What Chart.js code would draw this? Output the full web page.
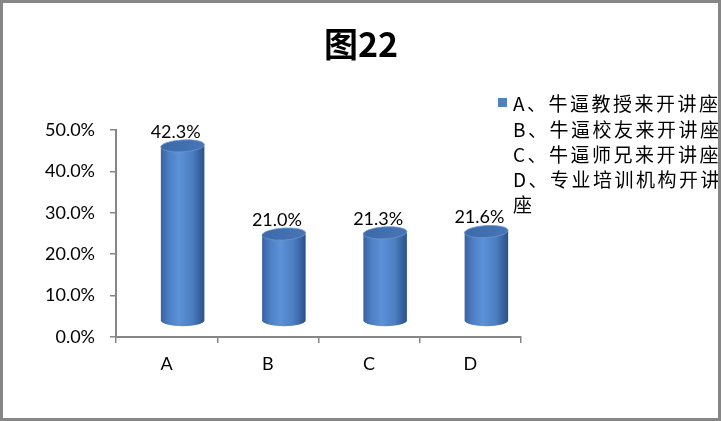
<!DOCTYPE html>
<html>
<head>
<meta charset="utf-8">
<script src="https://cdn.jsdelivr.net/npm/chart.js@4"></script>
<style>
  html, body { margin: 0; padding: 0; background: #fff; }
  #wrap { width: 721px; height: 421px; }
</style>
</head>
<body>
<div id="wrap"><canvas id="chart" width="721" height="421"></canvas></div>
<script>
// chart values
const titleText = '图22';
const categories = ['A', 'B', 'C', 'D'];
const shares = [42.3, 21.0, 21.3, 21.6];
const yTicks = [0, 10, 20, 30, 40, 50];
const legendLines = [
    'A、牛逼教授来开讲座',
    'B、牛逼校友来开讲座',
    'C、牛逼师兄来开讲座',
    'D、专业培训机构开讲',
    '座'
];

const LATIN = "Lato, 'Noto Sans CJK SC', sans-serif";
const CJK = "'Noto Sans CJK SC', Lato, sans-serif";
const AXIS_GREY = '#868686';
const BAR_BLUE = '#4f81bd';

// 3D floor offset of the cylinders vs the axis frame
const DX = 16, DY = -16, RY = 6;

const cylinders = {
    id: 'cylinders',
    afterDatasetsDraw(chart) {
        const { ctx } = chart;
        const meta = chart.getDatasetMeta(0);
        ctx.save();
        meta.data.forEach((el, i) => {
            const cx = el.x + DX;
            const rx = el.width / 2;
            const topY = el.y + DY;
            const botY = el.base + DY;
            const l = cx - rx, r = cx + rx;

            const g = ctx.createLinearGradient(l, 0, r, 0);
            g.addColorStop(0, '#3862a0');
            g.addColorStop(0.18, '#4c7fc3');
            g.addColorStop(0.42, '#5c92d8');
            g.addColorStop(0.72, '#4c7ec2');
            g.addColorStop(1, '#2b5189');

            ctx.beginPath();
            ctx.moveTo(l, topY);
            ctx.lineTo(l, botY);
            ctx.ellipse(cx, botY, rx, RY, 0, Math.PI, 0, true);
            ctx.lineTo(r, topY);
            ctx.closePath();
            ctx.fillStyle = g;
            ctx.fill();

            // top cap
            const tg = ctx.createLinearGradient(l, topY - RY, r, topY + RY);
            tg.addColorStop(0, '#3c6aa9');
            tg.addColorStop(1, '#4775b5');
            ctx.beginPath();
            ctx.ellipse(cx, topY, rx, RY, -0.06, 0, Math.PI * 2);
            ctx.fillStyle = tg;
            ctx.fill();
            ctx.strokeStyle = '#6b95cd';
            ctx.lineWidth = 0.8;
            ctx.stroke();

            // value label
            ctx.fillStyle = '#000';
            ctx.font = '18px ' + LATIN;
            ctx.textAlign = 'center';
            ctx.textBaseline = 'middle';
            ctx.fillText(shares[i].toFixed(1) + '%', el.x + 9, topY - 14);
        });
        ctx.restore();
    }
};

const decorations = {
    id: 'decorations',
    afterDraw(chart) {
        const { ctx } = chart;
        ctx.save();
        // title
        ctx.fillStyle = '#000';
        ctx.font = 'bold 34px ' + CJK;
        ctx.textAlign = 'center';
        ctx.textBaseline = 'middle';
        ctx.fillText(titleText, 361, 44);

        // legend: one marker, wrapped name
        ctx.fillStyle = BAR_BLUE;
        ctx.fillRect(498, 98, 9, 9);
        ctx.fillStyle = '#000';
        ctx.font = '19px ' + CJK;
        ctx.textAlign = 'left';
        ctx.letterSpacing = '2.5px';
        legendLines.forEach((line, i) => {
            ctx.fillText(line, 513, 104 + i * 25.3);
        });
        ctx.letterSpacing = '0px';

        // outer frame
        ctx.strokeStyle = AXIS_GREY;
        ctx.lineWidth = 3;
        ctx.strokeRect(1.5, 1.5, 718, 418);
        ctx.restore();
    }
};

new Chart(document.getElementById('chart'), {
    type: 'bar',
    data: {
        labels: categories,
        datasets: [{
            data: shares,
            backgroundColor: 'rgba(0,0,0,0)',
            borderWidth: 0,
            categoryPercentage: 1,
            barPercentage: 0.43
        }]
    },
    options: {
        responsive: false,
        animation: false,
        layout: { padding: { left: 0, right: 200, top: 130, bottom: 0 } },
        plugins: {
            legend: { display: false },
            title: { display: false },
            tooltip: { enabled: false }
        },
        scales: {
            x: {
                grid: { offset: true, drawOnChartArea: false, drawTicks: true, tickLength: 6, color: AXIS_GREY, lineWidth: 1.5 },
                border: { color: AXIS_GREY, width: 2 },
                ticks: { color: '#000', padding: 10, font: { size: 18, family: LATIN } },
                afterFit: s => { s.height = 84; }
            },
            y: {
                min: 0,
                max: 50,
                afterBuildTicks: s => { s.ticks = yTicks.map(v => ({ value: v })); },
                grid: { drawOnChartArea: false, drawTicks: true, tickLength: 6, color: AXIS_GREY, lineWidth: 1.5 },
                border: { color: AXIS_GREY, width: 2 },
                ticks: { color: '#000', padding: 15, font: { size: 18, family: LATIN }, callback: v => v.toFixed(1) + '%' },
                afterFit: s => { s.width = 116; }
            }
        }
    },
    plugins: [cylinders, decorations]
});
</script>
</body>
</html>
